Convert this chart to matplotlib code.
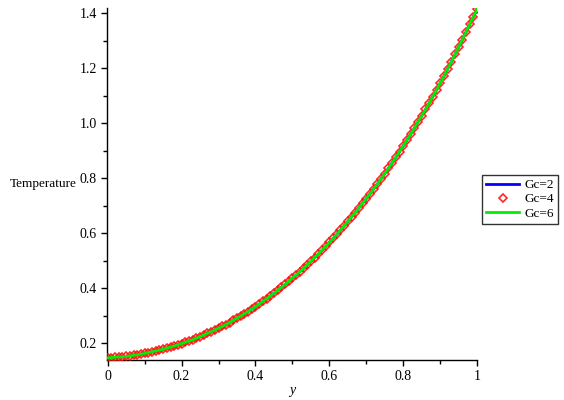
import numpy as np
import matplotlib
matplotlib.use('Agg')
import matplotlib.pyplot as plt
from matplotlib.ticker import MultipleLocator

# values (all three Gc curves coincide)
y_vals = [i / 100 for i in range(101)]
temp_gc2 = [0.147, 0.148, 0.149, 0.150, 0.151, 0.152, 0.154, 0.156, 0.158, 0.160,
            0.163, 0.166, 0.169, 0.172, 0.175, 0.178, 0.182, 0.186, 0.190, 0.194,
            0.199, 0.203, 0.208, 0.213, 0.218, 0.224, 0.230, 0.236, 0.242, 0.248,
            0.255, 0.261, 0.268, 0.275, 0.283, 0.291, 0.299, 0.307, 0.315, 0.324,
            0.333, 0.342, 0.352, 0.362, 0.372, 0.382, 0.392, 0.403, 0.414, 0.425,
            0.437, 0.448, 0.460, 0.472, 0.485, 0.498, 0.511, 0.524, 0.538, 0.552,
            0.567, 0.581, 0.596, 0.611, 0.627, 0.643, 0.659, 0.675, 0.692, 0.709,
            0.726, 0.743, 0.761, 0.779, 0.798, 0.817, 0.836, 0.856, 0.876, 0.897,
            0.918, 0.939, 0.960, 0.982, 1.005, 1.027, 1.050, 1.073, 1.097, 1.121,
            1.146, 1.171, 1.197, 1.223, 1.250, 1.277, 1.304, 1.332, 1.360, 1.388,
            1.417]
temp_gc4 = list(temp_gc2)
temp_gc6 = list(temp_gc2)

plt.rcParams['font.family'] = ['Liberation Serif', 'DejaVu Serif']
plt.rcParams['font.size'] = 9.5

fig = plt.figure(figsize=(5.64, 4.0), dpi=100)
ax = fig.add_axes([0.189, 0.10, 0.657, 0.88])

ax.plot(y_vals, temp_gc2, color='#0000ff', lw=2, label='Gc=2', zorder=2)
ax.plot(y_vals, temp_gc4, ls='none', marker='D', ms=4.5, mfc='none',
        mec='#ff1010', mew=1.2, alpha=0.9, label='Gc=4', zorder=3)
ax.plot(y_vals, temp_gc6, color='#00ee00', lw=2, label='Gc=6', zorder=4)

ax.set_xlim(-0.003, 1.0)
ax.set_ylim(0.139, 1.419)

for s in ['top', 'right']:
    ax.spines[s].set_visible(False)
ax.spines['left'].set_linewidth(1)
ax.spines['bottom'].set_linewidth(1)

ax.xaxis.set_major_locator(MultipleLocator(0.2))
ax.xaxis.set_minor_locator(MultipleLocator(0.1))
ax.yaxis.set_major_locator(MultipleLocator(0.2))
ax.yaxis.set_minor_locator(MultipleLocator(0.1))
ax.xaxis.set_major_formatter(plt.FuncFormatter(lambda v, p: '%g' % round(v, 2)))
ax.yaxis.set_major_formatter(plt.FuncFormatter(lambda v, p: '%.1f' % v))
ax.tick_params(which='major', direction='out', length=4, width=1, pad=3,
               labelsize=10)
ax.tick_params(which='minor', direction='out', length=3, width=1)

ax.set_xlabel('y', fontstyle='italic', fontsize=10, labelpad=1)
fig.text(0.017, 1 - 184 / 400, 'Temperature', va='center', ha='left')

leg = ax.legend(loc='upper left', bbox_to_anchor=(0.855, 0.5625),
                bbox_transform=fig.transFigure, frameon=True, fancybox=False,
                edgecolor='black', handlelength=2.5, handletextpad=0.4,
                borderpad=0.3, labelspacing=0.15, borderaxespad=0,
                markerscale=0.8)
leg.get_frame().set_linewidth(1)

fig.savefig('out.png', dpi=100)
